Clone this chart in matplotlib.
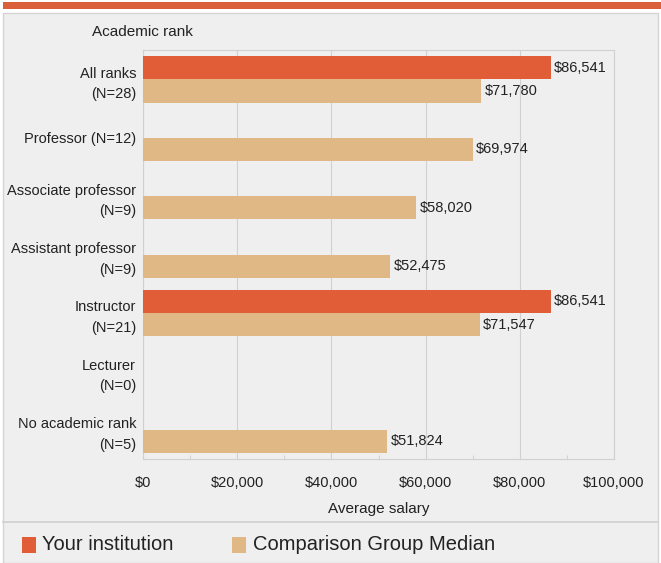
import numpy as np
import matplotlib.pyplot as plt
from matplotlib.patches import Rectangle
from matplotlib.ticker import MultipleLocator, FuncFormatter

plt.rcParams['font.family'] = ['Liberation Sans Narrow', 'Liberation Sans', 'DejaVu Sans']

# Data
categories = ["All ranks\n(N=28)", "Professor (N=12)", "Associate professor\n(N=9)",
              "Assistant professor\n(N=9)", "Instructor\n(N=21)", "Lecturer\n(N=0)",
              "No academic rank\n(N=5)"]
your_inst = [86541, np.nan, np.nan, np.nan, 86541, np.nan, np.nan]
comparison = [71780, 69974, 58020, 52475, 71547, np.nan, 51824]
series_names = ["Your institution", "Comparison Group Median"]

c_inst = "#e05d37"
c_comp = "#dfb886"
bg = "#efefef"

fig = plt.figure(figsize=(6.61, 5.63), dpi=100)
fig.patch.set_facecolor("white")

# panel background + top stripe
fig.patches.append(Rectangle((3 / 661, 0), 655 / 661, 1 - 13 / 563, transform=fig.transFigure,
                             facecolor=bg, edgecolor="#d4d4d4", lw=1, zorder=-5))
fig.patches.append(Rectangle((3 / 661, 1 - 8.5 / 563), 658 / 661, 6 / 563, transform=fig.transFigure,
                             facecolor="#d9603b", edgecolor="none", zorder=-4))
# legend separator
fig.add_artist(plt.Line2D([3 / 661, 658 / 661], [1 - 522 / 563] * 2, color="#cfcfcf", lw=1.2))

ax = fig.add_axes([143 / 661, 1 - 459 / 563, 471 / 661, 409 / 563])
ax.set_zorder(5)
ax.set_facecolor(bg)

y = np.arange(len(categories))
h = 0.4
ax.barh(y - h / 2, your_inst, height=h, color=c_inst, zorder=3, label=series_names[0])
ax.barh(y + h / 2, comparison, height=h, color=c_comp, zorder=3, label=series_names[1])

for vals, off in [(your_inst, -h / 2), (comparison, h / 2)]:
    for yi, v in zip(y, vals):
        if not np.isnan(v):
            ax.text(v + 700, yi + off, f"${v:,.0f}", va="center", ha="left",
                    fontsize=10.5, color="#222222", zorder=4)

ax.set_ylim(len(categories) - 0.5, -0.5)
ax.set_xlim(0, 100000)
ax.set_yticks(y)
ax.set_yticklabels(categories, fontsize=10.5, color="#222222", linespacing=1.6)
ax.tick_params(axis="y", length=0, pad=5)
ax.xaxis.set_major_locator(MultipleLocator(20000))
ax.xaxis.set_minor_locator(MultipleLocator(10000))
ax.xaxis.set_major_formatter(FuncFormatter(lambda v, p: f"${v:,.0f}"))
ax.tick_params(axis="x", which="major", length=0, labelsize=10.5, labelcolor="#222222", pad=12)
ax.tick_params(axis="x", which="minor", length=3, direction="in", color="#cccccc")
ax.grid(axis="x", which="major", color="#d0d0d0", lw=0.8, zorder=1)
for s in ax.spines.values():
    s.set_color("#d0d0d0")
    s.set_linewidth(0.8)
ax.set_xlabel("Average salary", fontsize=11, color="#222222", labelpad=9)

fig.text(92 / 661, 1 - 32 / 563, "Academic rank", fontsize=11, color="#222222", va="center")

# legend
fig.patches.append(Rectangle((22 / 661, 1 - 553 / 563), 14 / 661, 16 / 563, transform=fig.transFigure,
                             facecolor=c_inst, edgecolor="none"))
fig.text(42 / 661, 1 - 545 / 563, series_names[0], fontsize=14.5, color="#222222", va="center")
fig.patches.append(Rectangle((232 / 661, 1 - 553 / 563), 14 / 661, 16 / 563, transform=fig.transFigure,
                             facecolor=c_comp, edgecolor="none"))
fig.text(253 / 661, 1 - 545 / 563, series_names[1], fontsize=14.5, color="#222222", va="center")

fig.savefig("out.png", dpi=100, facecolor=fig.get_facecolor())
